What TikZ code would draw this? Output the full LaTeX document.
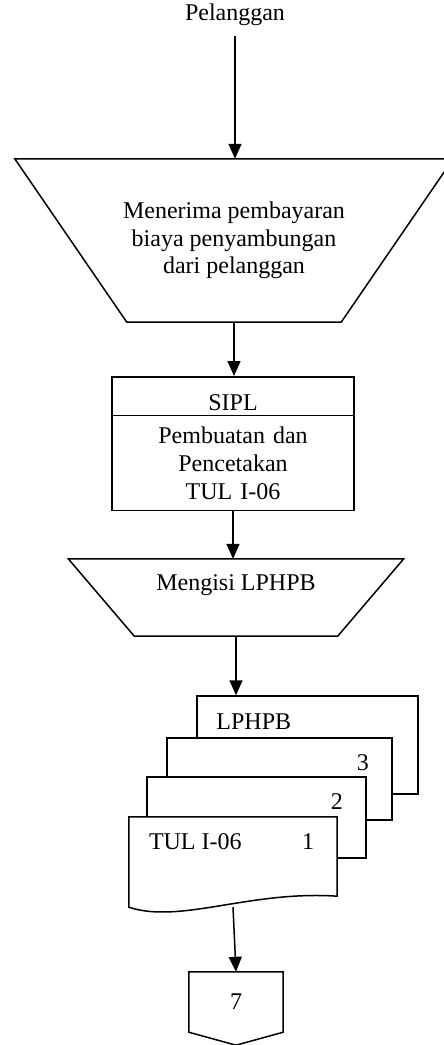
\documentclass[tikz,border=0pt]{standalone}
\usepackage{fontspec}
\setmainfont{Liberation Serif}
\usetikzlibrary{arrows.meta,calc,shapes.multipart}
\tikzset{
 flow/.style={line width=1.5pt,-{Triangle[length=15pt,width=13pt]}},
 txt/.style={font=\fontsize{24}{27.5}\selectfont,align=center,inner sep=0},
 manual/.style={rectangle,inner sep=0,font=\fontsize{24}{27.5}\selectfont,align=center},
 procbox/.style={rectangle split,rectangle split parts=2,draw,line width=1.5pt,inner xsep=4pt,inner ysep=10.5pt,text width=234pt,align=center,font=\fontsize{24}{28}\selectfont},
 sheet/.style={rectangle,draw,fill=white,line width=1.5pt,inner sep=0},
 pageref/.style={rectangle,inner sep=0,minimum width=94pt,minimum height=60pt,font=\fontsize{24}{27.5}\selectfont}
}
\begin{document}
\begin{tikzpicture}[x=1pt,y=-1pt]
\path[use as bounding box] (0,0) rectangle (444,1045);
% customer
\node[txt,inner ysep=10pt] (plg) at (235,15) {Pelanggan};
% manual steps
\node[manual,minimum width=438pt,minimum height=163pt] (terima) at (234,240.5)
 {Menerima pembayaran\\biaya penyambungan\\dari pelanggan};
\draw[line width=1.5pt] (terima.north west) -- (terima.north east) -- ($(terima.south east)+(-112,0)$)
 -- ($(terima.south west)+(112,0)$) -- cycle;
\node[procbox,anchor=north] (sipl) at (233,376)
 {\raisebox{-6pt}[16pt][0pt]{SIPL}\nodepart{two}Pembuatan dan\\Pencetakan\\TUL I-06};
\node[manual,minimum width=335pt,minimum height=77pt] (isi) at (236,597.5) {};
\draw[line width=1.5pt] (isi.north west) -- (isi.north east) -- ($(isi.south east)+(-66,0)$)
 -- ($(isi.south west)+(66,0)$) -- cycle;
\node[txt] at ($(isi.north)+(0,26)$) {Mengisi LPHPB};
% documents, back to front
\node[sheet,minimum width=221pt,minimum height=98pt] (lphpb) at (307.5,745) {};
\node[txt,anchor=west] at ($(lphpb.north west)+(20,26)$) {LPHPB};
\node[sheet,minimum width=225pt,minimum height=82pt] (lbr3) at (279.5,779) {};
\node[txt] at ($(lbr3.north east)+(-30,25)$) {3};
\node[sheet,minimum width=219pt,minimum height=81pt] (lbr2) at (256.5,817.5) {};
\node[txt] at ($(lbr2.north east)+(-30,25)$) {2};
\node[inner sep=0,minimum width=208pt,minimum height=90pt] (tul) at (233,862) {};
\draw[line width=1.5pt,fill=white] (tul.north west) -- (tul.north east) -- ($(tul.south east)+(0,-11)$)
 .. controls ($(tul.south)+(17,-17)$) and ($(tul.south)+(-53,17)$) .. (tul.south west) -- cycle;
\node[txt,anchor=west] at ($(tul.north west)+(20,25)$) {TUL I-06};
\node[txt] at ($(tul.north east)+(-29,25)$) {1};
% off-page connector
\node[pageref] (hal7) at (236,1002) {7};
\draw[line width=1.5pt] (hal7.north west) -- (hal7.north east) -- (hal7.south east)
 -- ($(hal7.south)+(0,13)$) -- (hal7.south west) -- cycle;
% flow
\draw[flow] (plg) -- (plg |- terima.north);
\draw[flow] (terima.south) -- (terima.south |- sipl.north);
\draw[flow] (sipl.south) -- (sipl.south |- isi.north);
\draw[flow] (isi.south) -- (isi.south |- lphpb.north);
\draw[flow] (tul.south) -- (hal7.north);
\end{tikzpicture}
\end{document}
